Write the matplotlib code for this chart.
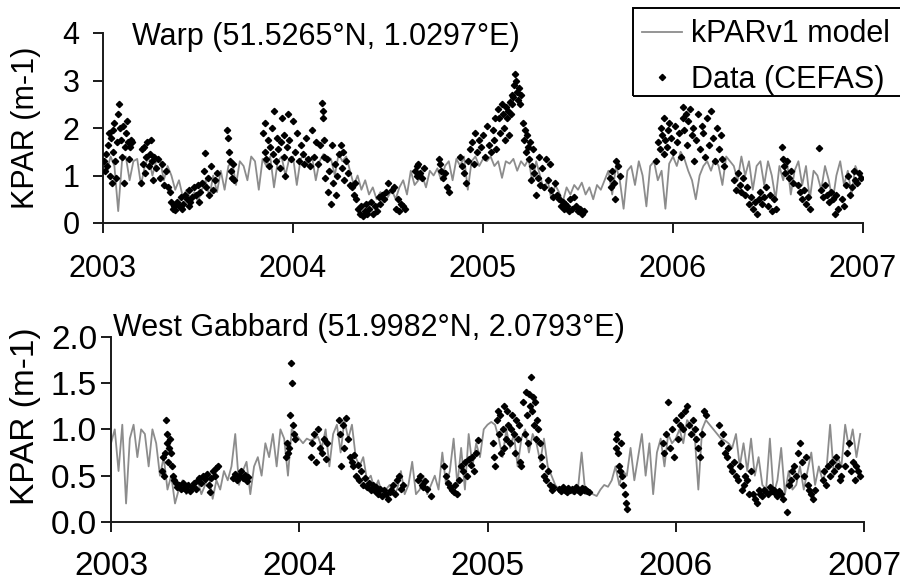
import numpy as np
import matplotlib
matplotlib.use("Agg")
import matplotlib.pyplot as plt
from matplotlib.lines import Line2D
from matplotlib.patches import Rectangle

plt.rcParams['font.family'] = ['Liberation Sans', 'DejaVu Sans']

# ---------------- data ----------------
years = [2003, 2004, 2005, 2006, 2007]
year_labels = ["2003", "2004", "2005", "2006", "2007"]

# model sampling grid (every 0.02 yr)
model_t = [2003 + 0.02 * i for i in range(200)]

warp_model = [
    # 2003
    1.3, 1.1, 1.4, 1.2, 0.25, 1.3, 1.4, 0.9, 1.3, 1.35, 0.8, 1.2, 1.4, 1.0, 1.3, 1.35, 0.9, 1.2,
    1.0, 0.7, 0.9, 0.55, 0.7, 0.5, 0.65, 0.45,
    0.7, 0.9, 0.55, 1.0, 0.65, 1.1, 0.7, 1.2, 1.3, 0.8,
    1.3, 1.2, 0.9, 1.4, 1.3, 0.7, 1.35, 1.2, 1.4, 0.75, 1.3, 1.4, 1.0, 1.35,
    # 2004
    1.4, 0.8, 1.35, 1.45, 1.2, 1.4, 0.9, 1.3, 1.45, 1.4, 1.35, 1.0, 1.45, 1.3, 1.4,
    1.1, 0.8, 1.0, 0.7, 0.9, 0.6, 0.75, 0.5, 0.65, 0.45, 0.55, 0.7, 0.5, 0.75,
    0.9, 0.6, 1.1, 0.8, 0.9, 1.0, 0.75, 1.1, 1.0, 1.15, 0.9,
    1.2, 1.3, 0.9, 1.35, 1.2, 1.4, 0.7, 1.3, 1.4, 1.2,
    # 2005
    1.35, 1.3, 1.4, 1.2, 1.3, 0.95, 1.3, 1.25, 1.35, 1.1, 1.3, 1.2, 1.35, 0.85, 1.3,
    1.0, 0.7, 0.9, 0.5, 0.8, 0.65, 0.45, 0.75, 0.6, 0.8,
    0.7, 0.85, 0.6, 0.75, 0.5, 0.8, 0.7, 0.9,
    1.1, 0.6, 1.2, 0.9, 0.3, 1.1, 1.2, 0.8, 1.3, 1.0, 0.35, 1.2, 1.3, 0.9, 1.1, 0.3, 1.25,
    # 2006
    1.4, 1.2, 1.5, 1.35, 1.1, 0.9, 0.5, 1.0, 1.2, 1.3, 1.1, 1.35, 1.2, 0.8, 1.4, 1.3,
    1.2, 0.9, 1.4, 1.0, 1.3, 0.7, 1.2, 1.3, 0.8, 1.3,
    1.0, 0.5, 1.2, 0.9, 1.3, 0.6, 1.1, 1.3, 0.8, 1.2, 0.5, 1.1, 1.0, 0.7, 1.2, 0.9,
    0.45, 1.0, 1.3, 0.8, 1.1, 0.6, 1.2, 1.0,
]

gabbard_model = [
    # 2003
    0.85, 1.0, 0.55, 1.05, 0.2, 0.9, 1.05, 0.7, 1.0, 0.95, 0.6, 1.0, 0.85,
    0.5, 0.7, 0.35, 0.5, 0.2,
    0.35, 0.45, 0.3, 0.4, 0.35, 0.45, 0.3, 0.4, 0.5, 0.25, 0.45, 0.35, 0.55,
    0.45, 0.6, 0.95, 0.4, 0.55, 0.65, 0.3, 0.6, 0.7, 0.5,
    0.85, 0.7, 0.95, 0.6, 1.0, 0.9, 0.5, 1.0, 0.95,
    # 2004
    0.9, 0.85, 0.9, 0.88, 0.9, 0.92,
    0.8, 1.0, 0.6, 0.95, 1.05, 0.75, 1.1, 0.9, 1.05, 0.7,
    0.6, 0.7, 0.45, 0.5, 0.35, 0.45, 0.3,
    0.35, 0.4, 0.3, 0.35, 0.55, 0.3, 0.4, 0.65, 0.3, 0.35, 0.5, 0.3, 0.4,
    0.5, 0.35, 0.75, 0.4, 0.55, 0.9, 0.4, 0.8, 0.35, 0.95, 0.6, 0.85, 0.7, 1.0,
    # 2005
    1.05, 1.08, 1.05, 0.9,
    0.7, 1.0, 0.8, 0.95, 0.6, 0.9, 1.0, 0.75, 0.95, 0.85, 0.65, 0.9,
    0.6, 0.5, 0.4, 0.35, 0.32,
    0.3, 0.32, 0.3, 0.35, 0.75, 0.3, 0.32, 0.3, 0.28, 0.35, 0.4, 0.38,
    0.45, 0.6, 0.4, 0.55, 0.5, 0.8, 0.45, 0.7, 0.95, 0.5, 0.85, 0.3, 0.75, 0.9, 0.6, 0.95, 0.85,
    # 2006
    0.9, 1.0, 0.85, 1.1, 1.05, 0.95, 0.35, 1.0, 1.1, 1.05,
    1.0, 0.95, 0.9, 0.88, 0.85, 0.8,
    0.95, 0.6, 0.85, 0.55, 0.9, 0.5, 0.7, 0.4,
    0.35, 0.9, 0.3, 0.45, 0.8, 0.3, 0.55, 0.35,
    0.4, 0.6, 0.35, 0.55, 0.75, 0.4, 0.6, 0.45, 0.55,
    1.05, 0.5, 0.7, 0.6, 1.05, 0.8, 1.0, 0.7, 0.95,
]

warp_data_t = [
    2003.005, 2003.01, 2003.015, 2003.02, 2003.025, 2003.03, 2003.035, 2003.04, 2003.045, 2003.05,
    2003.055, 2003.06, 2003.065, 2003.07, 2003.075, 2003.08, 2003.085, 2003.09, 2003.095, 2003.10,
    2003.105, 2003.11, 2003.115, 2003.12, 2003.125, 2003.13, 2003.135, 2003.14, 2003.145, 2003.15,
    2003.2, 2003.205, 2003.21, 2003.215, 2003.22, 2003.225, 2003.23, 2003.24, 2003.245, 2003.25,
    2003.26, 2003.265, 2003.27, 2003.28, 2003.29, 2003.30, 2003.31, 2003.32, 2003.33, 2003.34,
    2003.35, 2003.36, 2003.37, 2003.375, 2003.38, 2003.39, 2003.40, 2003.41, 2003.415, 2003.42,
    2003.43, 2003.44, 2003.45, 2003.455, 2003.46, 2003.47, 2003.48, 2003.49, 2003.50, 2003.505,
    2003.51, 2003.52, 2003.53, 2003.54, 2003.55, 2003.56, 2003.57, 2003.58, 2003.59, 2003.60, 2003.535,
    2003.655, 2003.66, 2003.665, 2003.67, 2003.675, 2003.68, 2003.685, 2003.69,
    2003.84, 2003.85, 2003.855, 2003.86, 2003.87, 2003.875, 2003.88, 2003.89, 2003.895, 2003.90,
    2003.91, 2003.915, 2003.92, 2003.93, 2003.935, 2003.94, 2003.95, 2003.955, 2003.96, 2003.97,
    2003.975, 2003.98, 2003.99, 2004.0, 2004.01, 2004.02, 2004.03, 2004.04, 2004.05, 2004.06,
    2004.07, 2004.08, 2004.09, 2004.10, 2004.11, 2004.12, 2004.13, 2004.14,
    2004.155, 2004.158, 2004.16, 2004.162, 2004.165,
    2004.17, 2004.18, 2004.185, 2004.19, 2004.2, 2004.205, 2004.21, 2004.22, 2004.225, 2004.23,
    2004.24, 2004.25, 2004.26, 2004.265, 2004.27, 2004.28, 2004.29, 2004.30,
    2004.31, 2004.32, 2004.325, 2004.33, 2004.34, 2004.35, 2004.36, 2004.37, 2004.38, 2004.385,
    2004.39, 2004.40, 2004.41, 2004.42, 2004.43, 2004.44, 2004.45, 2004.46, 2004.47, 2004.48,
    2004.49, 2004.50, 2004.52, 2004.53, 2004.54, 2004.55, 2004.56, 2004.57, 2004.58, 2004.59,
    2004.64, 2004.65, 2004.655, 2004.66, 2004.67, 2004.68, 2004.69,
    2004.77, 2004.775, 2004.78, 2004.79, 2004.8, 2004.81, 2004.82,
    2004.88, 2004.89, 2004.9, 2004.91, 2004.92, 2004.93, 2004.94, 2004.95, 2004.96, 2004.97,
    2004.98, 2004.99, 2005.0, 2005.01, 2005.02, 2005.03, 2005.04, 2005.05, 2005.06, 2005.065, 2005.07,
    2005.08, 2005.085, 2005.09, 2005.1, 2005.105, 2005.11, 2005.115, 2005.12, 2005.125, 2005.13,
    2005.135, 2005.14, 2005.145, 2005.15, 2005.155, 2005.16, 2005.165, 2005.17, 2005.175, 2005.18,
    2005.185, 2005.19, 2005.195, 2005.2,
    2005.21, 2005.215, 2005.22, 2005.225, 2005.23, 2005.235, 2005.24, 2005.245, 2005.25, 2005.26,
    2005.265, 2005.27, 2005.28, 2005.29, 2005.295, 2005.3, 2005.31, 2005.32, 2005.33, 2005.34,
    2005.35, 2005.36, 2005.37, 2005.38, 2005.39,
    2005.40, 2005.41, 2005.42, 2005.425, 2005.43, 2005.44, 2005.45, 2005.46, 2005.47, 2005.48,
    2005.49, 2005.50, 2005.51, 2005.52, 2005.53,
    2005.67, 2005.675, 2005.68, 2005.69, 2005.695, 2005.70, 2005.71, 2005.72,
    2005.91, 2005.92, 2005.93, 2005.935, 2005.94, 2005.95, 2005.955, 2005.96, 2005.97, 2005.975,
    2005.98, 2005.99, 2006.0, 2006.01, 2006.02, 2006.03, 2006.04, 2006.05, 2006.055, 2006.06,
    2006.07, 2006.075, 2006.08, 2006.09, 2006.1, 2006.105, 2006.11, 2006.12, 2006.13, 2006.14,
    2006.15, 2006.16, 2006.17, 2006.18, 2006.19, 2006.2, 2006.21, 2006.22, 2006.23, 2006.24,
    2006.25, 2006.26, 2006.27,
    2006.32, 2006.33, 2006.34, 2006.35, 2006.36, 2006.37, 2006.38, 2006.39, 2006.40, 2006.41,
    2006.42, 2006.43, 2006.44, 2006.45, 2006.46, 2006.47, 2006.48, 2006.49, 2006.5, 2006.51,
    2006.52, 2006.53, 2006.54,
    2006.575, 2006.58, 2006.585, 2006.59, 2006.6, 2006.61, 2006.62, 2006.63,
    2006.66, 2006.67, 2006.68, 2006.69, 2006.70, 2006.71, 2006.72,
    2006.77,
    2006.78, 2006.79, 2006.8, 2006.81, 2006.82, 2006.83, 2006.84, 2006.85, 2006.86, 2006.87,
    2006.89, 2006.9, 2006.91, 2006.92, 2006.93, 2006.94, 2006.95, 2006.96, 2006.97, 2006.98, 2006.99,
]
warp_data_v = [
    1.3, 1.1, 1.45, 1.2, 1.65, 1.9, 1.0, 1.8, 0.85, 1.5,
    1.95, 2.1, 1.3, 0.95, 1.7, 2.3, 2.5, 2.0, 1.75, 1.4,
    2.05, 0.85, 1.6, 1.9, 2.15, 1.7, 1.35, 1.6, 1.75, 1.7,
    0.85, 1.55, 1.25, 1.6, 1.05, 1.4, 1.7, 1.2, 1.45, 1.75,
    1.3, 0.9, 1.4, 1.15, 1.35, 0.95, 1.25, 0.8, 1.1, 0.75,
    0.65, 0.45, 0.3, 0.35, 0.28, 0.45, 0.35, 0.55, 0.3, 0.4,
    0.6, 0.5, 0.35, 0.7, 0.45, 0.55, 0.75, 0.6, 0.8, 0.45,
    0.65, 0.85, 1.1, 0.75, 0.95, 0.6, 1.2, 0.7, 0.9, 1.05, 1.47,
    1.95, 1.8, 1.5, 1.3, 1.1, 0.95, 1.25, 0.9,
    1.9, 1.5, 2.1, 1.35, 1.75, 1.2, 1.6, 2.0, 1.45, 2.35,
    1.3, 1.8, 1.55, 1.15, 1.7, 2.2, 1.4, 1.85, 1.0, 1.6,
    2.3, 1.75, 1.35, 2.15, 1.5, 1.9, 1.3, 1.65, 1.45, 1.25,
    1.8, 1.35, 1.2, 1.95, 1.4, 1.7, 1.25, 1.65,
    2.53, 2.35, 2.2, 1.75, 1.4,
    0.95, 1.35, 0.65, 1.1, 0.4, 1.65, 0.85, 1.25, 0.6, 1.0,
    1.45, 1.65, 1.15, 1.5, 0.9, 1.3, 1.05, 0.8,
    0.75, 0.6, 0.85, 0.5, 0.3, 0.2, 0.35, 0.15, 0.25, 0.4,
    0.2, 0.3, 0.45, 0.2, 0.35, 0.25, 0.55, 0.4, 0.6, 0.5,
    0.65, 0.85, 0.7, 0.75, 0.3, 0.5, 0.25, 0.4, 0.35, 0.3,
    1.1, 1.2, 1.0, 1.25, 1.05, 0.95, 1.15,
    1.35, 1.25, 1.1, 0.95, 1.05, 0.75, 0.65,
    1.4, 1.2, 1.05, 0.85, 1.3, 1.55, 1.7, 1.25, 1.9, 1.5,
    1.75, 1.6, 1.85, 1.4, 2.05, 1.65, 1.5, 1.95, 1.75, 2.2, 1.55,
    2.4, 2.2, 1.9, 2.5, 2.3, 2.0, 1.75, 2.45, 2.2, 2.35,
    1.85, 2.55, 2.3, 2.7, 2.5, 2.65, 2.9, 3.13, 3.0, 2.75,
    2.6, 2.85, 2.5, 2.7,
    2.1, 1.75, 1.95, 1.5, 1.85, 1.6, 1.35, 1.7, 0.9, 1.2,
    1.55, 1.05, 0.6, 0.95, 1.4, 0.8, 1.15, 0.75, 1.35, 0.9,
    1.25, 0.7, 0.55, 0.85, 0.6,
    0.5, 0.35, 0.45, 0.3, 0.4, 0.35, 0.25, 0.5, 0.3, 0.55,
    0.35, 0.25, 0.3, 0.2, 0.25,
    0.95, 0.75, 1.1, 0.85, 0.5, 1.3, 1.2, 1.0,
    1.3, 1.7, 1.55, 2.0, 1.85, 1.45, 2.2, 1.75, 1.6, 1.95,
    2.1, 1.8, 1.5, 2.05, 1.7, 1.9, 1.4, 2.2, 2.45, 1.95,
    2.3, 1.65, 2.15, 2.4, 1.85, 2.0, 1.3, 1.75, 2.3, 1.55,
    2.05, 1.9, 1.4, 2.2, 1.65, 2.35, 1.8, 1.3, 2.0, 1.55,
    1.85, 1.35, 1.2,
    0.9, 0.7, 1.05, 0.8, 0.65, 0.95, 0.6, 0.75, 0.4, 0.55,
    0.3, 0.45, 0.2, 0.5, 0.65, 0.4, 0.55, 0.75, 0.35, 0.6,
    0.25, 0.5, 0.3,
    1.6, 1.35, 1.2, 1.05, 1.3, 0.95, 1.1, 0.85,
    0.8, 0.65, 0.5, 0.7, 0.4, 0.55, 0.3,
    1.58,
    0.7, 0.55, 0.8, 0.6, 0.45, 0.65, 0.5, 0.2, 0.6, 0.3,
    0.5, 0.35, 0.8, 1.0, 0.6, 0.75, 1.1, 0.9, 0.85, 1.05, 0.95,
]

gabbard_data_t = [
    2003.27, 2003.275, 2003.28, 2003.285, 2003.29, 2003.295, 2003.30, 2003.305, 2003.31, 2003.315,
    2003.32, 2003.325, 2003.33, 2003.335,
    2003.345, 2003.35, 2003.36, 2003.37, 2003.38, 2003.39, 2003.40, 2003.41, 2003.42, 2003.43,
    2003.44, 2003.45, 2003.46, 2003.47, 2003.48, 2003.49, 2003.5, 2003.51, 2003.52, 2003.525,
    2003.53, 2003.54, 2003.55, 2003.56, 2003.57,
    2003.65, 2003.66, 2003.67, 2003.68, 2003.69, 2003.70, 2003.71, 2003.72, 2003.73,
    2003.935, 2003.94, 2003.945, 2003.95, 2003.955, 2003.96, 2003.965, 2003.97, 2003.975, 2003.93,
    2004.06, 2004.07, 2004.08, 2004.09, 2004.1, 2004.11, 2004.12, 2004.13, 2004.14, 2004.15,
    2004.21, 2004.215, 2004.22, 2004.23, 2004.24, 2004.25, 2004.26, 2004.27, 2004.28,
    2004.285, 2004.29, 2004.30, 2004.31, 2004.32, 2004.33, 2004.34, 2004.35, 2004.36, 2004.37,
    2004.38, 2004.39, 2004.4, 2004.41, 2004.42, 2004.43, 2004.44, 2004.45, 2004.46, 2004.47,
    2004.48, 2004.49, 2004.5, 2004.51, 2004.52, 2004.53, 2004.54, 2004.55,
    2004.63, 2004.64, 2004.65, 2004.66, 2004.67, 2004.68, 2004.7,
    2004.77, 2004.78, 2004.79, 2004.8, 2004.81, 2004.82, 2004.83, 2004.84, 2004.85, 2004.86,
    2004.87, 2004.88, 2004.89, 2004.9, 2004.91, 2004.92, 2004.93, 2004.94, 2004.95,
    2005.03, 2005.035, 2005.04, 2005.05, 2005.055, 2005.06, 2005.065, 2005.07, 2005.08, 2005.085,
    2005.09, 2005.1, 2005.105, 2005.11, 2005.12, 2005.125, 2005.13, 2005.14, 2005.145, 2005.15,
    2005.16, 2005.165, 2005.17, 2005.18, 2005.19, 2005.2, 2005.205, 2005.21, 2005.215, 2005.22,
    2005.225, 2005.23, 2005.235, 2005.24, 2005.245, 2005.25, 2005.26, 2005.265, 2005.27, 2005.28,
    2005.285, 2005.29, 2005.30, 2005.31, 2005.32, 2005.33, 2005.34, 2005.35,
    2005.38, 2005.39, 2005.40, 2005.41, 2005.42, 2005.43, 2005.44, 2005.45, 2005.46, 2005.47,
    2005.48, 2005.49, 2005.5, 2005.51, 2005.52, 2005.53, 2005.54,
    2005.68, 2005.685, 2005.69, 2005.695, 2005.7, 2005.705, 2005.71, 2005.715, 2005.72, 2005.73,
    2005.735, 2005.74,
    2005.93, 2005.94, 2005.95, 2005.96, 2005.97, 2005.98, 2005.99, 2006.0, 2006.01, 2006.02,
    2006.03, 2006.04, 2006.05, 2006.06, 2006.07, 2006.08, 2006.09, 2006.1, 2006.11, 2006.12,
    2006.13, 2006.14, 2006.15, 2006.16,
    2006.23, 2006.24, 2006.25, 2006.26, 2006.27, 2006.28, 2006.29, 2006.3, 2006.31, 2006.32,
    2006.33, 2006.34, 2006.35, 2006.36, 2006.37, 2006.38, 2006.39, 2006.4,
    2006.41, 2006.42, 2006.43, 2006.44, 2006.45, 2006.46, 2006.47, 2006.48, 2006.49, 2006.5,
    2006.51, 2006.52, 2006.53, 2006.54, 2006.55, 2006.56, 2006.57,
    2006.59, 2006.6, 2006.61, 2006.62, 2006.63, 2006.64, 2006.65, 2006.66, 2006.67, 2006.68,
    2006.69, 2006.7, 2006.71, 2006.72, 2006.73, 2006.74,
    2006.78, 2006.79, 2006.8, 2006.81, 2006.82, 2006.83, 2006.84, 2006.85, 2006.86, 2006.87,
    2006.88, 2006.9, 2006.91, 2006.92, 2006.93, 2006.94, 2006.95, 2006.96, 2006.97, 2006.98,
]
gabbard_data_v = [
    0.55, 0.7, 0.5, 0.75, 1.1, 0.85, 0.95, 0.65, 0.8, 0.9,
    0.75, 0.6, 0.5, 0.45,
    0.42, 0.38, 0.4, 0.36, 0.42, 0.37, 0.35, 0.4, 0.33, 0.38,
    0.42, 0.36, 0.45, 0.48, 0.42, 0.5, 0.46, 0.52, 0.4, 0.32,
    0.48, 0.55, 0.5, 0.58, 0.6,
    0.48, 0.52, 0.45, 0.5, 0.55, 0.47, 0.51, 0.44, 0.49,
    0.85, 0.75, 0.8, 1.15, 1.72, 1.5, 1.05, 0.95, 0.9, 0.7,
    0.7, 0.85, 0.95, 0.65, 1.0, 0.8, 0.75, 0.9, 0.68, 0.85,
    1.1, 0.95, 0.6, 1.05, 0.8, 1.12, 0.9, 0.7, 0.65,
    0.6, 0.72, 0.5, 0.62, 0.45, 0.55, 0.4, 0.48, 0.38, 0.42,
    0.35, 0.4, 0.33, 0.38, 0.3, 0.36, 0.28, 0.34, 0.3, 0.25,
    0.32, 0.35, 0.4, 0.3, 0.45, 0.5, 0.36, 0.4,
    0.45, 0.5, 0.4, 0.38, 0.44, 0.36, 0.28,
    0.6, 0.5, 0.42, 0.38, 0.35, 0.32, 0.4, 0.3, 0.45, 0.6,
    0.55, 0.65, 0.5, 0.68, 0.62, 0.7, 0.55, 0.75, 0.89,
    0.85, 0.7, 0.6, 1.1, 1.2, 0.95, 1.15, 0.75, 1.0, 1.25,
    0.8, 0.9, 1.2, 1.05, 0.85, 1.0, 1.15, 0.95, 0.75, 1.1,
    0.9, 1.05, 0.65, 0.6, 1.3, 0.95, 1.4, 1.15, 0.85, 1.38,
    1.25, 1.57, 1.2, 1.35, 1.05, 1.3, 0.9, 1.1, 1.0, 0.85,
    0.7, 0.6, 0.5, 0.45, 0.55, 0.4, 0.35, 0.38,
    0.36, 0.33, 0.38, 0.35, 0.32, 0.37, 0.34, 0.36, 0.33, 0.38,
    0.35, 0.32, 0.37, 0.34, 0.36, 0.33, 0.32,
    0.9, 0.8, 0.95, 0.75, 0.6, 0.55, 0.85, 0.5, 0.4, 0.3,
    0.2, 0.14,
    0.85, 0.75, 0.95, 1.3, 0.8, 1.0, 0.7, 1.1, 0.9, 1.05,
    1.15, 1.0, 1.2, 1.25, 1.05, 0.95, 1.1, 1.0, 0.9, 0.8,
    0.7, 0.95, 1.2, 1.15,
    1.05, 0.85, 0.95, 0.75, 0.7, 0.8, 0.6, 0.55, 0.65, 0.5,
    0.45, 0.6, 0.35, 0.4, 0.5, 0.45, 0.3, 0.55,
    0.3, 0.25, 0.2, 0.35, 0.3, 0.28, 0.35, 0.32, 0.3, 0.38,
    0.33, 0.35, 0.3, 0.28, 0.33, 0.3, 0.25,
    0.11, 0.4, 0.45, 0.55, 0.6, 0.5, 0.75, 0.85, 0.65, 0.5,
    0.7, 0.4, 0.35, 0.3, 0.25, 0.35,
    0.45, 0.55, 0.4, 0.6, 0.5, 0.65, 0.55, 0.7, 0.6, 0.45,
    0.5, 0.6, 0.75, 0.85, 0.55, 0.65, 0.45, 0.6, 0.55, 0.5,
]

warp_yticks = [0, 1, 2, 3, 4]
warp_ylabels = ["0", "1", "2", "3", "4"]
gabbard_yticks = [0.0, 0.5, 1.0, 1.5, 2.0]
gabbard_ylabels = ["0.0", "0.5", "1.0", "1.5", "2.0"]

warp_title = "Warp (51.5265°N, 1.0297°E)"
gabbard_title = "West Gabbard (51.9982°N, 2.0793°E)"
ylabel = "KPAR (m-1)"
legend_labels = ["kPARv1 model", "Data (CEFAS)"]

# ---------------- style ----------------
W, H = 900, 583
fig = plt.figure(figsize=(9, 5.83), dpi=100)
model_color = '#8c8c8c'
spine_color = '#1a1a1a'


def px_ax(l, r, b, t):
    return [l / W, 1 - b / H, (r - l) / W, (b - t) / H]


def style(ax, ylim, yticks, ylabels, fs_tick, ypad, xpad):
    ax.set_xlim(2003, 2007)
    ax.set_ylim(*ylim)
    for s in ['top', 'right']:
        ax.spines[s].set_visible(False)
    for s in ['left', 'bottom']:
        ax.spines[s].set_linewidth(1.4)
        ax.spines[s].set_color(spine_color)
    ax.set_xticks(years)
    ax.set_xticklabels(year_labels)
    ax.set_yticks(yticks)
    ax.set_yticklabels(ylabels)
    ax.tick_params(axis='both', direction='out', length=7, width=1.4,
                   color=spine_color, labelsize=fs_tick, labelcolor='black')
    ax.tick_params(axis='y', pad=ypad)
    ax.tick_params(axis='x', pad=xpad)


ax1 = fig.add_axes(px_ax(103, 863, 223, 33))
ax1.plot(model_t, warp_model, color=model_color, lw=1.3, zorder=2)
ax1.plot(warp_data_t, warp_data_v, linestyle='none', marker='D', ms=3.2,
         color='black', zorder=3)
style(ax1, (0, 4), warp_yticks, warp_ylabels, 22, 10, 15)

ax2 = fig.add_axes(px_ax(111, 864, 522, 336.7))
ax2.plot(model_t, gabbard_model, color=model_color, lw=1.3, zorder=2)
ax2.plot(gabbard_data_t, gabbard_data_v, linestyle='none', marker='D', ms=3.2,
         color='black', zorder=3)
style(ax2, (0, 2), gabbard_yticks, gabbard_ylabels, 24, 3, 14)

fig.text(132 / W, 1 - 45 / H, warp_title, fontsize=22, va='baseline', ha='left')
fig.text(113 / W, 1 - 336 / H, gabbard_title, fontsize=22, va='baseline', ha='left')

fig.text(26 / W, 1 - 128 / H, ylabel, fontsize=22, rotation=90, va='center', ha='center')
fig.text(26 / W, 1 - 416 / H, ylabel, fontsize=24, rotation=90, va='center', ha='center')

# legend: frame drawn separately to match reference extent
fig.add_artist(Rectangle((633 / W, 1 - 96 / H), (905 - 633) / W, 88 / H,
                         transform=fig.transFigure, fill=False,
                         edgecolor='black', lw=1.4, clip_on=False))
handles = [Line2D([], [], color=model_color, lw=1.3),
           Line2D([], [], linestyle='none', marker='D', ms=3.2, color='black')]
leg = fig.legend(handles, legend_labels, loc='center left',
                 bbox_to_anchor=(642 / W, 1 - 57 / H), fontsize=22, frameon=False,
                 handlelength=1.3, handletextpad=0.3, labelspacing=0.5,
                 borderpad=0, borderaxespad=0)

fig.savefig('out.png', dpi=100)
